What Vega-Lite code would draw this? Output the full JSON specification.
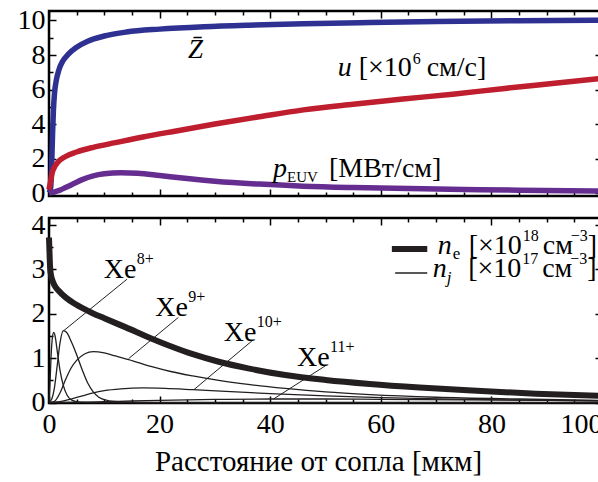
{
  "$schema": "https://vega.github.io/schema/vega-lite/v6.json",
  "autosize": {"type": "pad"},
  "padding": {"left": 15, "top": 5, "right": -4, "bottom": 0},
  "background": "white",
  "config": {
    "view": {"stroke": "black", "strokeWidth": 2.5},
    "font": "Liberation Serif",
    "axis": {
      "domain": false, "grid": false,
      "labelFont": "Liberation Serif", "labelFontSize": 28, "labelColor": "black",
      "tickColor": "black", "tickWidth": 1.5,
      "titleFont": "Liberation Serif", "titleFontSize": 29, "titleFontWeight": "normal", "titleColor": "black"
    },
    "text": {"font": "Liberation Serif", "fontSize": 28, "color": "black", "align": "left", "baseline": "alphabetic"}
  },
  "datasets": {
    "top": [
      {"s":"Z","x":0,"v":0},{"s":"Z","x":0.3,"v":0.3},{"s":"Z","x":0.5,"v":1.8},{"s":"Z","x":0.65,"v":3.5},{"s":"Z","x":0.8,"v":4.8},{"s":"Z","x":1.0,"v":5.8},{"s":"Z","x":1.3,"v":6.5},{"s":"Z","x":1.8,"v":7.15},{"s":"Z","x":2.5,"v":7.65},{"s":"Z","x":3.5,"v":8.05},{"s":"Z","x":5,"v":8.45},{"s":"Z","x":7,"v":8.8},{"s":"Z","x":10,"v":9.1},{"s":"Z","x":14,"v":9.33},{"s":"Z","x":20,"v":9.5},{"s":"Z","x":28,"v":9.64},{"s":"Z","x":36,"v":9.73},{"s":"Z","x":46,"v":9.81},{"s":"Z","x":58,"v":9.88},{"s":"Z","x":70,"v":9.94},{"s":"Z","x":85,"v":9.99},{"s":"Z","x":100,"v":10.02},
      {"s":"u","x":0,"v":0.2},{"s":"u","x":0.3,"v":0.7},{"s":"u","x":0.6,"v":1.2},{"s":"u","x":0.9,"v":1.45},{"s":"u","x":1.5,"v":1.75},{"s":"u","x":3,"v":2.12},{"s":"u","x":5,"v":2.38},{"s":"u","x":8,"v":2.65},{"s":"u","x":12,"v":2.92},{"s":"u","x":17,"v":3.25},{"s":"u","x":23,"v":3.6},{"s":"u","x":30,"v":4.0},{"s":"u","x":38,"v":4.42},{"s":"u","x":46,"v":4.82},{"s":"u","x":55,"v":5.15},{"s":"u","x":64,"v":5.45},{"s":"u","x":73,"v":5.73},{"s":"u","x":82,"v":6.05},{"s":"u","x":91,"v":6.35},{"s":"u","x":100,"v":6.65},
      {"s":"p","x":0,"v":0},{"s":"p","x":0.5,"v":0.03},{"s":"p","x":1,"v":0.07},{"s":"p","x":2,"v":0.17},{"s":"p","x":3,"v":0.32},{"s":"p","x":4.5,"v":0.55},{"s":"p","x":6,"v":0.78},{"s":"p","x":8,"v":1.0},{"s":"p","x":10,"v":1.12},{"s":"p","x":13,"v":1.18},{"s":"p","x":16,"v":1.15},{"s":"p","x":20,"v":1.02},{"s":"p","x":25,"v":0.84},{"s":"p","x":30,"v":0.69},{"s":"p","x":38,"v":0.52},{"s":"p","x":46,"v":0.4},{"s":"p","x":55,"v":0.32},{"s":"p","x":65,"v":0.26},{"s":"p","x":75,"v":0.21},{"s":"p","x":85,"v":0.17},{"s":"p","x":100,"v":0.12}
    ],
    "bottom": [
      {"s":"ne","x":0,"v":3.72},{"s":"ne","x":0.1,"v":3.35},{"s":"ne","x":0.2,"v":3.05},{"s":"ne","x":0.35,"v":2.88},{"s":"ne","x":0.6,"v":2.76},{"s":"ne","x":1,"v":2.64},{"s":"ne","x":1.75,"v":2.52},{"s":"ne","x":3,"v":2.37},{"s":"ne","x":4.75,"v":2.22},{"s":"ne","x":7.8,"v":2.02},{"s":"ne","x":10,"v":1.9},{"s":"ne","x":13.8,"v":1.7},{"s":"ne","x":18.6,"v":1.44},{"s":"ne","x":22,"v":1.27},{"s":"ne","x":26,"v":1.09},{"s":"ne","x":30.7,"v":0.92},{"s":"ne","x":36,"v":0.77},{"s":"ne","x":42.7,"v":0.62},{"s":"ne","x":50,"v":0.51},{"s":"ne","x":58,"v":0.42},{"s":"ne","x":67,"v":0.34},{"s":"ne","x":76.5,"v":0.27},{"s":"ne","x":88,"v":0.2},{"s":"ne","x":100,"v":0.15},
      {"s":"Xe7","x":0,"v":0},{"s":"Xe7","x":0.2,"v":0.5},{"s":"Xe7","x":0.4,"v":1.1},{"s":"Xe7","x":0.6,"v":1.45},{"s":"Xe7","x":0.85,"v":1.58},{"s":"Xe7","x":1.1,"v":1.5},{"s":"Xe7","x":1.5,"v":1.15},{"s":"Xe7","x":2,"v":0.72},{"s":"Xe7","x":2.6,"v":0.38},{"s":"Xe7","x":3.3,"v":0.16},{"s":"Xe7","x":4.2,"v":0.05},{"s":"Xe7","x":5.5,"v":0.01},{"s":"Xe7","x":7,"v":0},{"s":"Xe7","x":100,"v":0},
      {"s":"Xe8","x":0,"v":0},{"s":"Xe8","x":0.5,"v":0.08},{"s":"Xe8","x":1,"v":0.35},{"s":"Xe8","x":1.5,"v":0.85},{"s":"Xe8","x":2,"v":1.35},{"s":"Xe8","x":2.6,"v":1.62},{"s":"Xe8","x":3.2,"v":1.58},{"s":"Xe8","x":4,"v":1.38},{"s":"Xe8","x":5,"v":1.08},{"s":"Xe8","x":6,"v":0.74},{"s":"Xe8","x":7,"v":0.44},{"s":"Xe8","x":8,"v":0.24},{"s":"Xe8","x":9,"v":0.12},{"s":"Xe8","x":10.5,"v":0.05},{"s":"Xe8","x":13,"v":0.015},{"s":"Xe8","x":16,"v":0},{"s":"Xe8","x":100,"v":0},
      {"s":"Xe9","x":0,"v":0},{"s":"Xe9","x":1,"v":0.03},{"s":"Xe9","x":2,"v":0.22},{"s":"Xe9","x":3,"v":0.52},{"s":"Xe9","x":4,"v":0.78},{"s":"Xe9","x":5,"v":0.95},{"s":"Xe9","x":6.5,"v":1.1},{"s":"Xe9","x":8,"v":1.15},{"s":"Xe9","x":10,"v":1.12},{"s":"Xe9","x":12,"v":1.05},{"s":"Xe9","x":14.4,"v":0.97},{"s":"Xe9","x":18.6,"v":0.81},{"s":"Xe9","x":22,"v":0.7},{"s":"Xe9","x":26,"v":0.6},{"s":"Xe9","x":30.7,"v":0.5},{"s":"Xe9","x":36,"v":0.41},{"s":"Xe9","x":42.7,"v":0.32},{"s":"Xe9","x":50,"v":0.24},{"s":"Xe9","x":58,"v":0.18},{"s":"Xe9","x":70,"v":0.12},{"s":"Xe9","x":85,"v":0.08},{"s":"Xe9","x":100,"v":0.05},
      {"s":"Xe10","x":0,"v":0},{"s":"Xe10","x":2,"v":0.02},{"s":"Xe10","x":4,"v":0.08},{"s":"Xe10","x":6,"v":0.15},{"s":"Xe10","x":8,"v":0.22},{"s":"Xe10","x":10,"v":0.27},{"s":"Xe10","x":13,"v":0.31},{"s":"Xe10","x":17,"v":0.33},{"s":"Xe10","x":21,"v":0.32},{"s":"Xe10","x":26,"v":0.29},{"s":"Xe10","x":32,"v":0.25},{"s":"Xe10","x":40,"v":0.2},{"s":"Xe10","x":50,"v":0.15},{"s":"Xe10","x":60,"v":0.11},{"s":"Xe10","x":75,"v":0.07},{"s":"Xe10","x":100,"v":0.04},
      {"s":"Xe11","x":0,"v":0},{"s":"Xe11","x":5,"v":0.005},{"s":"Xe11","x":10,"v":0.02},{"s":"Xe11","x":15,"v":0.035},{"s":"Xe11","x":20,"v":0.05},{"s":"Xe11","x":30,"v":0.07},{"s":"Xe11","x":40,"v":0.08},{"s":"Xe11","x":50,"v":0.08},{"s":"Xe11","x":60,"v":0.072},{"s":"Xe11","x":75,"v":0.06},{"s":"Xe11","x":90,"v":0.048},{"s":"Xe11","x":100,"v":0.04}
    ],
    "leaders": [
      {"ion":"8+","x":14.1,"v":2.78,"x2":2.66,"v2":1.62},
      {"ion":"9+","x":23.4,"v":1.92,"x2":14.4,"v2":0.99},
      {"ion":"10+","x":36.7,"v":1.39,"x2":26.2,"v2":0.29},
      {"ion":"11+","x":50,"v":0.83,"x2":40.6,"v2":0.08}
    ],
    "ions": [
      {"ion":"8+","x":9.9,"v":2.81},
      {"ion":"9+","x":19.2,"v":1.955},
      {"ion":"10+","x":31.6,"v":1.393},
      {"ion":"11+","x":44.85,"v":0.831}
    ],
    "zlab": [{"x":26.5,"v":7.83}],
    "ulab": [{"x":52.2,"v":6.78}],
    "plab": [{"x":40.5,"v":0.93}],
    "leg1": [{"x":62.0,"x2":68.4,"v":3.46,"xn":70.3,"xb":75.9,"vt":3.35}],
    "leg2": [{"x":62.6,"x2":68.4,"v":2.92,"xn":69.4,"xb":75.8,"vt":2.83}],
    "anchor": [{"x":0,"v":0}]
  },
  "spacing": 22,
  "bounds": "flush",
  "vconcat": [
    {
      "width": 553,
      "height": 185,
      "resolve": {"axis": {"x": "independent", "y": "independent"}},
      "layer": [
        {
          "data": {"name": "top"},
          "mark": {"type": "line", "strokeWidth": 5.5, "interpolate": "monotone"},
          "encoding": {
            "x": {"field": "x", "type": "quantitative", "scale": {"domain": [0, 100], "nice": false, "zero": false},
                  "axis": {"orient": "bottom", "values": [0,20,40,60,80,100], "tickSize": -7, "labels": false, "title": null}},
            "y": {"field": "v", "type": "quantitative", "scale": {"domain": [-0.17, 10.55], "nice": false, "zero": false},
                  "axis": {"orient": "left", "values": [0,2,4,6,8,10], "tickSize": -7, "labelPadding": 11, "title": null}},
            "color": {"field": "s", "type": "nominal", "scale": {"domain": ["Z","u","p"], "range": ["#2e3192", "#be1e2d", "#662d91"]}, "legend": null}
          }
        },
        {
          "data": {"name": "anchor"},
          "mark": {"type": "point", "opacity": 0},
          "encoding": {
            "x": {"field": "x", "type": "quantitative", "axis": {"orient": "bottom", "values": [5,10,15,25,30,35,45,50,55,65,70,75,85,90,95], "tickSize": -4, "labels": false, "title": null}},
            "y": {"field": "v", "type": "quantitative", "axis": {"orient": "left", "values": [1,3,5,7,9], "tickSize": -4, "labels": false, "title": null}}
          }
        },
        {
          "data": {"name": "anchor"},
          "mark": {"type": "point", "opacity": 0},
          "encoding": {
            "x": {"field": "x", "type": "quantitative", "axis": {"orient": "top", "values": [0,20,40,60,80,100], "tickSize": -7, "labels": false, "title": null}},
            "y": {"field": "v", "type": "quantitative", "axis": {"orient": "right", "values": [0,2,4,6,8,10], "tickSize": -7, "labels": false, "title": null}}
          }
        },
        {
          "data": {"name": "anchor"},
          "mark": {"type": "point", "opacity": 0},
          "encoding": {
            "x": {"field": "x", "type": "quantitative", "axis": {"orient": "top", "values": [5,10,15,25,30,35,45,50,55,65,70,75,85,90,95], "tickSize": -4, "labels": false, "title": null}},
            "y": {"field": "v", "type": "quantitative", "axis": {"orient": "right", "values": [1,3,5,7,9], "tickSize": -4, "labels": false, "title": null}}
          }
        },
        {
          "data": {"name": "zlab"},
          "mark": {"type": "text", "text": "Z̄", "fontStyle": "italic", "fontSize": 27, "align": "center"},
          "encoding": {"x": {"field": "x", "type": "quantitative", "axis": null}, "y": {"field": "v", "type": "quantitative", "axis": null}}
        },
        {
          "data": {"name": "ulab"},
          "mark": {"type": "text", "text": "u", "fontStyle": "italic"},
          "encoding": {"x": {"field": "x", "type": "quantitative", "axis": null}, "y": {"field": "v", "type": "quantitative", "axis": null}}
        },
        {
          "data": {"name": "ulab"},
          "mark": {"type": "text", "text": "[×10", "dx": 21},
          "encoding": {"x": {"field": "x", "type": "quantitative", "axis": null}, "y": {"field": "v", "type": "quantitative", "axis": null}}
        },
        {
          "data": {"name": "ulab"},
          "mark": {"type": "text", "text": "6", "dx": 75, "dy": -12, "fontSize": 16},
          "encoding": {"x": {"field": "x", "type": "quantitative", "axis": null}, "y": {"field": "v", "type": "quantitative", "axis": null}}
        },
        {
          "data": {"name": "ulab"},
          "mark": {"type": "text", "text": "см/с]", "dx": 89},
          "encoding": {"x": {"field": "x", "type": "quantitative", "axis": null}, "y": {"field": "v", "type": "quantitative", "axis": null}}
        },
        {
          "data": {"name": "plab"},
          "mark": {"type": "text", "text": "p", "fontStyle": "italic"},
          "encoding": {"x": {"field": "x", "type": "quantitative", "axis": null}, "y": {"field": "v", "type": "quantitative", "axis": null}}
        },
        {
          "data": {"name": "plab"},
          "mark": {"type": "text", "text": "EUV", "dx": 14, "dy": 5, "fontSize": 15},
          "encoding": {"x": {"field": "x", "type": "quantitative", "axis": null}, "y": {"field": "v", "type": "quantitative", "axis": null}}
        },
        {
          "data": {"name": "plab"},
          "mark": {"type": "text", "text": "[МВт/см]", "dx": 56},
          "encoding": {"x": {"field": "x", "type": "quantitative", "axis": null}, "y": {"field": "v", "type": "quantitative", "axis": null}}
        }
      ]
    },
    {
      "width": 553,
      "height": 185,
      "resolve": {"axis": {"x": "independent", "y": "independent"}},
      "layer": [
        {
          "data": {"name": "bottom"},
          "transform": [{"filter": "datum.s !== 'ne'"}],
          "mark": {"type": "line", "strokeWidth": 1.3, "color": "#231f20", "interpolate": "monotone"},
          "encoding": {
            "x": {"field": "x", "type": "quantitative", "scale": {"domain": [0, 100], "nice": false, "zero": false},
                  "axis": {"orient": "bottom", "values": [0,20,40,60,80,100], "tickSize": -7, "labelPadding": 14,
                           "labelAlign": {"condition": {"test": "datum.value === 100", "value": "right"}, "value": "center"},
                           "title": "Расстояние от сопла [мкм]", "titlePadding": 9, "titleX": 269}},
            "y": {"field": "v", "type": "quantitative", "scale": {"domain": [-0.01, 4.16], "nice": false, "zero": false},
                  "axis": {"orient": "left", "values": [0,1,2,3,4], "tickSize": -7, "labelPadding": 11, "title": null}},
            "detail": {"field": "s", "type": "nominal"}
          }
        },
        {
          "data": {"name": "bottom"},
          "transform": [{"filter": "datum.s === 'ne'"}],
          "mark": {"type": "line", "strokeWidth": 6, "color": "#231f20", "interpolate": "monotone"},
          "encoding": {
            "x": {"field": "x", "type": "quantitative", "axis": null},
            "y": {"field": "v", "type": "quantitative", "axis": null}
          }
        },
        {
          "data": {"name": "anchor"},
          "mark": {"type": "point", "opacity": 0},
          "encoding": {
            "x": {"field": "x", "type": "quantitative", "axis": {"orient": "bottom", "values": [5,10,15,25,30,35,45,50,55,65,70,75,85,90,95], "tickSize": -4, "labels": false, "title": null}},
            "y": {"field": "v", "type": "quantitative", "axis": {"orient": "left", "values": [0.5,1.5,2.5,3.5], "tickSize": -4, "labels": false, "title": null}}
          }
        },
        {
          "data": {"name": "anchor"},
          "mark": {"type": "point", "opacity": 0},
          "encoding": {
            "x": {"field": "x", "type": "quantitative", "axis": {"orient": "top", "values": [0,20,40,60,80,100], "tickSize": -7, "labels": false, "title": null}},
            "y": {"field": "v", "type": "quantitative", "axis": {"orient": "right", "values": [0,1,2,3,4], "tickSize": -7, "labels": false, "title": null}}
          }
        },
        {
          "data": {"name": "anchor"},
          "mark": {"type": "point", "opacity": 0},
          "encoding": {
            "x": {"field": "x", "type": "quantitative", "axis": {"orient": "top", "values": [5,10,15,25,30,35,45,50,55,65,70,75,85,90,95], "tickSize": -4, "labels": false, "title": null}},
            "y": {"field": "v", "type": "quantitative", "axis": {"orient": "right", "values": [0.5,1.5,2.5,3.5], "tickSize": -4, "labels": false, "title": null}}
          }
        },
        {
          "data": {"name": "leaders"},
          "mark": {"type": "rule", "strokeWidth": 1, "color": "#231f20"},
          "encoding": {
            "x": {"field": "x", "type": "quantitative", "axis": null},
            "y": {"field": "v", "type": "quantitative", "axis": null},
            "x2": {"field": "x2"},
            "y2": {"field": "v2"}
          }
        },
        {
          "data": {"name": "ions"},
          "mark": {"type": "text", "text": "Xe"},
          "encoding": {"x": {"field": "x", "type": "quantitative", "axis": null}, "y": {"field": "v", "type": "quantitative", "axis": null}}
        },
        {
          "data": {"name": "ions"},
          "mark": {"type": "text", "dx": 33, "dy": -14, "fontSize": 16},
          "encoding": {"x": {"field": "x", "type": "quantitative", "axis": null}, "y": {"field": "v", "type": "quantitative", "axis": null}, "text": {"field": "ion"}}
        },
        {
          "data": {"name": "leg1"},
          "mark": {"type": "rule", "strokeWidth": 6, "color": "#231f20"},
          "encoding": {"x": {"field": "x", "type": "quantitative", "axis": null}, "x2": {"field": "x2"}, "y": {"field": "v", "type": "quantitative", "axis": null}}
        },
        {
          "data": {"name": "leg2"},
          "mark": {"type": "rule", "strokeWidth": 1.3, "color": "#231f20"},
          "encoding": {"x": {"field": "x", "type": "quantitative", "axis": null}, "x2": {"field": "x2"}, "y": {"field": "v", "type": "quantitative", "axis": null}}
        },
        {
          "data": {"name": "leg1"},
          "mark": {"type": "text", "text": "n", "fontStyle": "italic"},
          "encoding": {"x": {"field": "xn", "type": "quantitative", "axis": null}, "y": {"field": "vt", "type": "quantitative", "axis": null}}
        },
        {
          "data": {"name": "leg1"},
          "mark": {"type": "text", "text": "e", "dx": 15, "dy": 5, "fontSize": 17},
          "encoding": {"x": {"field": "xn", "type": "quantitative", "axis": null}, "y": {"field": "vt", "type": "quantitative", "axis": null}}
        },
        {
          "data": {"name": "leg1"},
          "mark": {"type": "text", "text": "18", "dx": 54, "dy": -13, "fontSize": 16},
          "encoding": {"x": {"field": "xb", "type": "quantitative", "axis": null}, "y": {"field": "vt", "type": "quantitative", "axis": null}}
        },
        {
          "data": {"name": "leg2"},
          "mark": {"type": "text", "text": "n", "fontStyle": "italic"},
          "encoding": {"x": {"field": "xn", "type": "quantitative", "axis": null}, "y": {"field": "vt", "type": "quantitative", "axis": null}}
        },
        {
          "data": {"name": "leg2"},
          "mark": {"type": "text", "text": "j", "dx": 14, "dy": 6, "fontSize": 17, "fontStyle": "italic"},
          "encoding": {"x": {"field": "xn", "type": "quantitative", "axis": null}, "y": {"field": "vt", "type": "quantitative", "axis": null}}
        },
        {
          "data": {"name": "leg2"},
          "mark": {"type": "text", "text": "17", "dx": 54, "dy": -13, "fontSize": 16},
          "encoding": {"x": {"field": "xb", "type": "quantitative", "axis": null}, "y": {"field": "vt", "type": "quantitative", "axis": null}}
        },
        {
          "data": {"values": [{"x": 75.9, "v": 3.35}, {"x": 75.8, "v": 2.83}]},
          "mark": {"type": "text", "text": "[×10"},
          "encoding": {"x": {"field": "x", "type": "quantitative", "axis": null}, "y": {"field": "v", "type": "quantitative", "axis": null}}
        },
        {
          "data": {"values": [{"x": 75.9, "v": 3.35}, {"x": 75.8, "v": 2.83}]},
          "mark": {"type": "text", "text": "см", "dx": 74},
          "encoding": {"x": {"field": "x", "type": "quantitative", "axis": null}, "y": {"field": "v", "type": "quantitative", "axis": null}}
        },
        {
          "data": {"values": [{"x": 75.9, "v": 3.35}, {"x": 75.8, "v": 2.83}]},
          "mark": {"type": "text", "text": "−3", "dx": 102, "dy": -13, "fontSize": 16},
          "encoding": {"x": {"field": "x", "type": "quantitative", "axis": null}, "y": {"field": "v", "type": "quantitative", "axis": null}}
        },
        {
          "data": {"values": [{"x": 75.9, "v": 3.35}, {"x": 75.8, "v": 2.83}]},
          "mark": {"type": "text", "text": "]", "dx": 119},
          "encoding": {"x": {"field": "x", "type": "quantitative", "axis": null}, "y": {"field": "v", "type": "quantitative", "axis": null}}
        }
      ]
    }
  ]
}
